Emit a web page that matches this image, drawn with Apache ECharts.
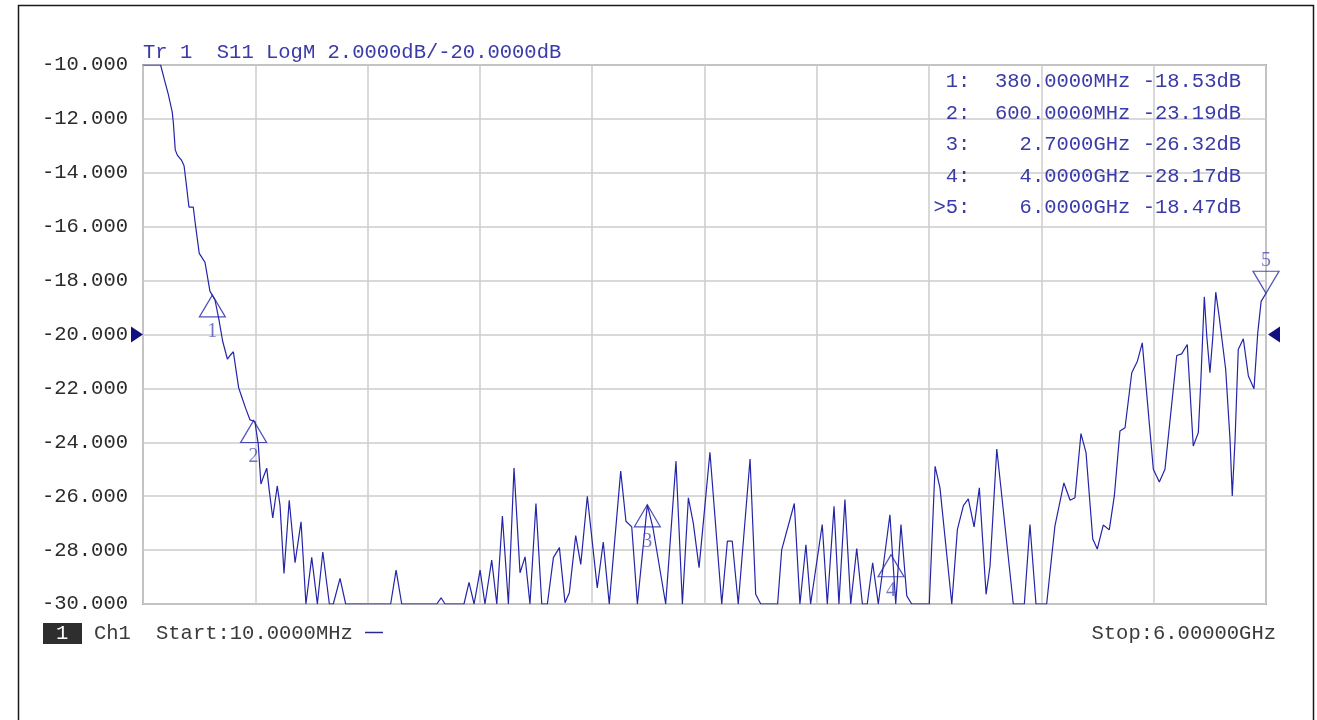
<!DOCTYPE html>
<html>
<head>
<meta charset="utf-8">
<script src="https://cdn.jsdelivr.net/npm/echarts@6/dist/echarts.min.js"></script>
<style>
  html, body { margin: 0; padding: 0; background: #fff; }
  #chart { width: 1317px; height: 720px; }
</style>
</head>
<body>
<div id="chart"></div>
<script>
// sweep settings
const START_MHZ = 10;
const STOP_MHZ = 6000;
const SCALE_DB = 2;
const REF_DB = -20;

// trace vertices (MHz, dB)
const freqMHz = [
  10, 104, 122, 145, 166, 172, 182, 193, 216, 229, 243, 255, 264, 278, 291, 310, 323, 341, 367, 394,
  415, 435, 460, 474, 492, 506, 520, 536, 559, 581, 607, 625, 639, 652, 670, 684, 702, 726, 741, 762,
  790, 821, 853, 879, 910, 940, 969, 1004, 1025, 1061, 1091, 1331, 1360, 1390, 1577, 1600, 1621, 1722, 1749, 1776,
  1808, 1834, 1870, 1897, 1927, 1959, 1989, 2021, 2048, 2074, 2106, 2137, 2167, 2199, 2231, 2261, 2284, 2318, 2345, 2380,
  2433, 2465, 2497, 2558, 2586, 2617, 2647, 2700, 2730, 2798, 2853, 2887, 2919, 2945, 2976, 3034, 3097, 3127, 3153, 3185,
  3248, 3278, 3305, 3395, 3417, 3484, 3514, 3546, 3571, 3633, 3660, 3696, 3722, 3754, 3785, 3817, 3847, 3873, 3902, 3932,
  3994, 4025, 4053, 4084, 4110, 4204, 4235, 4261, 4324, 4354, 4386, 4412, 4443, 4471, 4507, 4528, 4564, 4652, 4711, 4741,
  4773, 4830, 4874, 4922, 4955, 4981, 5013, 5040, 5058, 5076, 5100, 5132, 5164, 5191, 5221, 5248, 5284, 5314, 5340, 5399,
  5431, 5461, 5524, 5550, 5580, 5612, 5639, 5652, 5671, 5684, 5701, 5716, 5732, 5751, 5785, 5808, 5820, 5835, 5852, 5879,
  5906, 5936, 5956, 5974, 6000
];
const s11dB = [
  -10, -10, -10.49, -11.09, -11.75, -12.15, -13.15, -13.34, -13.54, -13.74, -14.54, -15.27, -15.2, -15.27, -16.0, -16.99, -17.13, -17.33, -18.39, -18.72,
  -19.45, -20.25, -20.91, -20.78, -20.64, -21.31, -21.97, -22.3, -22.77, -23.17, -23.23, -24.09, -25.55, -25.29, -24.96, -25.82, -26.81, -25.62, -26.35, -28.87,
  -26.15, -28.47, -26.95, -30, -28.27, -30, -28.07, -30, -30, -29.05, -30, -30, -28.74, -30, -30, -29.77, -30, -30, -29.2, -30,
  -28.74, -30, -28.37, -30, -26.74, -30, -24.95, -28.84, -28.25, -30, -26.27, -30, -30, -28.28, -27.91, -29.95, -29.58, -27.46, -28.53, -26.0,
  -29.4, -27.7, -30, -25.07, -26.93, -27.14, -30, -26.32, -27.17, -30, -24.7, -30, -26.06, -26.99, -28.65, -24.37, -30, -27.67, -27.67, -30,
  -24.62, -29.64, -30, -30, -27.98, -26.27, -30, -27.8, -30, -27.05, -30, -26.37, -30, -26.12, -30, -27.94, -30, -30, -28.47, -30,
  -26.69, -30, -27.05, -29.7, -30, -30, -24.89, -25.69, -30, -27.23, -26.35, -26.1, -27.14, -25.69, -29.64, -28.59, -24.25, -30, -30, -27.05,
  -30, -30, -27.11, -25.51, -26.15, -26.06, -23.68, -24.38, -25.99, -27.59, -27.96, -27.07, -27.25, -25.99, -23.58, -23.46, -21.42, -20.99, -20.31, -25.0,
  -25.47, -25.0, -20.78, -20.72, -20.37, -24.14, -23.64, -21.79, -18.6, -20.06, -21.42, -20.12, -18.43, -19.38, -21.3, -23.89, -25.99, -23.89, -20.56, -20.16,
  -21.54, -22.01, -19.94, -18.77, -18.47
];

// markers
const markerFreqMHz = [380, 600, 2700, 4000, 6000];
const markerDB = [-18.53, -23.19, -26.32, -28.17, -18.47];
const activeMarker = 5;

const FONT = '"Liberation Mono", "DejaVu Sans Mono", monospace';
const BLUE = '#2424a8';
const TXT_BLUE = '#3a3aa8';

function fmtFreq(f) {
  if (f < 1000) return f.toFixed(4) + 'MHz';
  return (f / 1000).toFixed(4) + 'GHz';
}

const traceData = freqMHz.map((f, i) => [f - START_MHZ, s11dB[i]]);

const markerData = markerFreqMHz.map((f, i) => {
  const up = i < markerFreqMHz.length - 1;
  return {
    value: [f - START_MHZ, markerDB[i]],
    symbolRotate: up ? 0 : 180,
    symbolOffset: up ? [0, 11] : [0, -11],
    label: { position: up ? 'bottom' : 'top', distance: up ? 4 : 0 }
  };
});

const tableLines = markerFreqMHz.map((f, i) => {
  const n = i + 1;
  return (n === activeMarker ? '>' : ' ') + n + ':  ' + fmtFreq(f).padStart(11, ' ') + ' ' + markerDB[i].toFixed(2) + 'dB';
});

const chart = echarts.init(document.getElementById('chart'), null, { renderer: 'canvas' });

const option = {
  animation: false,
  backgroundColor: '#ffffff',
  grid: {
    left: 143,
    top: 65,
    width: 1123,
    height: 539,
    show: true,
    borderColor: '#a6a6a6',
    borderWidth: 2,
    backgroundColor: 'transparent'
  },
  xAxis: {
    type: 'value',
    min: 0,
    max: STOP_MHZ - START_MHZ,
    interval: (STOP_MHZ - START_MHZ) / 10,
    axisLine: { show: false },
    axisTick: { show: false },
    axisLabel: { show: false },
    splitLine: { show: true, lineStyle: { color: '#cdcdcd', width: 1.5 } }
  },
  yAxis: {
    type: 'value',
    min: REF_DB - 5 * SCALE_DB,
    max: REF_DB + 5 * SCALE_DB,
    interval: SCALE_DB,
    axisLine: { show: false },
    axisTick: { show: false },
    axisLabel: {
      margin: 15,
      color: '#2b2b2b',
      fontFamily: FONT,
      fontSize: 20.5,
      formatter: v => v.toFixed(3)
    },
    splitLine: { show: true, lineStyle: { color: '#cdcdcd', width: 1.5 } }
  },
  series: [
    {
      name: 'S11',
      type: 'line',
      data: traceData,
      showSymbol: false,
      clip: true,
      lineStyle: { color: BLUE, width: 1.2 },
      z: 3
    },
    {
      name: 'markers',
      type: 'scatter',
      data: markerData,
      symbol: 'triangle',
      symbolSize: [26, 22],
      clip: false,
      itemStyle: { color: 'rgba(0,0,0,0)', borderColor: BLUE, borderWidth: 1.2 },
      label: {
        show: true,
        color: '#5050b8',
        fontFamily: '"Liberation Serif", serif',
        fontSize: 20,
        formatter: p => String(p.dataIndex + 1)
      },
      z: 4
    }
  ],
  graphic: [
    // window frame
    { type: 'rect', shape: { x: 18.5, y: 5.5, width: 1295, height: 730 },
      style: { fill: null, stroke: '#1a1a1a', lineWidth: 1.5 }, silent: true },
    // trace header
    { type: 'text', left: 143, top: 42,
      style: { text: 'Tr 1  S11 LogM ' + SCALE_DB.toFixed(4) + 'dB/' + REF_DB.toFixed(4) + 'dB',
        fill: TXT_BLUE, font: '20.5px ' + FONT } },
    // marker table
    ...tableLines.map((t, i) => ({
      type: 'text', left: 933.5, top: 71 + i * 31.6,
      style: { text: t, fill: TXT_BLUE, font: '20.5px ' + FONT, whiteSpace: 'pre' }
    })),
    // channel bar
    { type: 'rect', shape: { x: 43, y: 623, width: 39, height: 21 }, style: { fill: '#2e2e2e' } },
    { type: 'text', left: 56, top: 623, style: { text: '1', fill: '#ffffff', font: '20.5px ' + FONT } },
    { type: 'text', left: 94, top: 623, style: { text: 'Ch1', fill: '#3a3a3a', font: '20.5px ' + FONT } },
    { type: 'text', left: 156, top: 623,
      style: { text: 'Start:' + START_MHZ.toFixed(4) + 'MHz', fill: '#3a3a3a', font: '20.5px ' + FONT } },
    { type: 'line', shape: { x1: 365, y1: 632.5, x2: 383, y2: 632.5 }, style: { stroke: '#2a2a8a', lineWidth: 1.5 } },
    { type: 'text', right: 41, top: 623,
      style: { text: 'Stop:' + (STOP_MHZ / 1000).toFixed(5) + 'GHz', fill: '#3a3a3a', font: '20.5px ' + FONT } }
  ]
};

chart.setOption(option);

// reference level arrows on both sides of the grid
const refPx = chart.convertToPixel({ gridIndex: 0 }, [0, REF_DB]);
const refPxR = chart.convertToPixel({ gridIndex: 0 }, [STOP_MHZ - START_MHZ, REF_DB]);
chart.setOption({
  graphic: option.graphic.concat([
    { type: 'polygon', shape: { points: [[refPx[0] - 12, refPx[1] - 8], [refPx[0], refPx[1]], [refPx[0] - 12, refPx[1] + 8]] },
      style: { fill: '#101080' }, z: 10 },
    { type: 'polygon', shape: { points: [[refPxR[0] + 14, refPxR[1] - 8], [refPxR[0] + 2, refPxR[1]], [refPxR[0] + 14, refPxR[1] + 8]] },
      style: { fill: '#101080' }, z: 10 }
  ])
}, { replaceMerge: ['graphic'] });
</script>
</body>
</html>
